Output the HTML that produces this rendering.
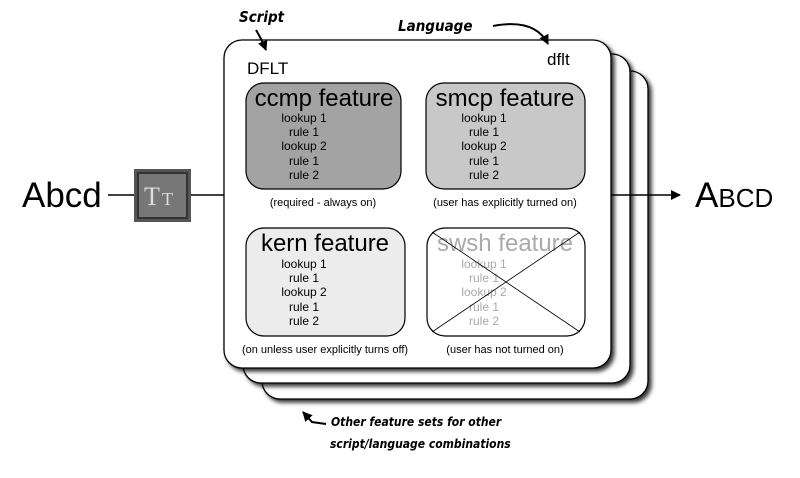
<!DOCTYPE html>
<html><head><meta charset="utf-8"><style>
body{margin:0;background:#fff;}
svg text{font-family:"Liberation Sans",sans-serif;}
.hand{font-family:"DejaVu Sans Condensed","DejaVu Sans",sans-serif;font-weight:bold;font-style:italic;}
</style></head><body>
<svg width="800" height="473" viewBox="0 0 800 473" xmlns="http://www.w3.org/2000/svg">
<defs><filter id="sh" x="-10%" y="-10%" width="130%" height="130%"><feDropShadow dx="3" dy="3" stdDeviation="2" flood-color="#000" flood-opacity="0.8"/></filter>
<marker id="ah" markerWidth="10" markerHeight="10" refX="9" refY="5" orient="auto" markerUnits="userSpaceOnUse"><path d="M0,0 L10,5 L0,10 Z" fill="#000"/></marker></defs>
<rect x="262" y="71" width="386" height="328" rx="18" fill="#fff" stroke="#000" stroke-width="1.3" filter="url(#sh)"/>
<rect x="243" y="54" width="387" height="329" rx="18" fill="#fff" stroke="#000" stroke-width="1.3" filter="url(#sh)"/>
<rect x="224" y="40" width="387" height="328" rx="18" fill="#fff" stroke="#000" stroke-width="1.3" filter="url(#sh)"/>
<line x1="108" y1="195" x2="134" y2="195" stroke="#000" stroke-width="1.5"/>
<line x1="191" y1="195" x2="224" y2="195" stroke="#000" stroke-width="1.5"/>
<line x1="611" y1="195" x2="680" y2="195" stroke="#000" stroke-width="1.5" marker-end="url(#ah)"/>
<text x="22" y="207" font-size="35">Abcd</text>
<text x="695" y="207" font-size="35">A<tspan font-size="26">BCD</tspan></text>
<rect x="134" y="169" width="57" height="53" fill="#555"/>
<rect x="138" y="173" width="49" height="45" fill="#777" stroke="#333" stroke-width="2"/>
<text x="144" y="205" font-size="26" fill="#ddd" style="font-family:'Liberation Serif',serif">T</text>
<text x="162" y="205" font-size="18" fill="#ddd" style="font-family:'Liberation Serif',serif">T</text>
<text x="247" y="74" font-size="17">DFLT</text>
<text x="547" y="65" font-size="17">dflt</text>
<text x="239" y="22" font-size="15" class="hand">Script</text>
<path d="M256,30 Q262,40 266,50" fill="none" stroke="#000" stroke-width="2" marker-end="url(#ah)"/>
<text x="398" y="31" font-size="15" class="hand">Language</text>
<path d="M493,26 Q535,18 548,44" fill="none" stroke="#000" stroke-width="2" marker-end="url(#ah)"/>
<text x="331" y="426" font-size="12" class="hand">Other feature sets for other</text>
<text x="330" y="448" font-size="12" class="hand">script/language combinations</text>
<path d="M326,424 L312,422 L303,412" fill="none" stroke="#000" stroke-width="2" marker-end="url(#ah)"/>
<g font-size="12" text-anchor="middle">
<rect x="246" y="83" width="155" height="106" rx="18" fill="#a3a3a3" stroke="#000" stroke-width="1.2"/>
<text x="324" y="106" font-size="24">ccmp feature</text>
<text x="304" y="122">lookup 1</text><text x="304" y="136">rule 1</text><text x="304" y="150">lookup 2</text><text x="304" y="165">rule 1</text><text x="304" y="179">rule 2</text>
<text x="323" y="206" font-size="11">(required - always on)</text>
<rect x="426" y="83" width="159" height="106" rx="18" fill="#c8c8c8" stroke="#000" stroke-width="1.2"/>
<text x="505" y="106" font-size="24">smcp feature</text>
<text x="484" y="122">lookup 1</text><text x="484" y="136">rule 1</text><text x="484" y="150">lookup 2</text><text x="484" y="165">rule 1</text><text x="484" y="179">rule 2</text>
<text x="505" y="206" font-size="11">(user has explicitly turned on)</text>
<rect x="246" y="228" width="159" height="108" rx="18" fill="#ececec" stroke="#000" stroke-width="1.2"/>
<text x="325" y="251" font-size="24">kern feature</text>
<text x="304" y="268">lookup 1</text><text x="304" y="282">rule 1</text><text x="304" y="296">lookup 2</text><text x="304" y="311">rule 1</text><text x="304" y="325">rule 2</text>
<text x="325" y="353" font-size="11">(on unless user explicitly turns off)</text>
<rect x="427" y="228" width="158" height="108" rx="18" fill="#fff" stroke="#000" stroke-width="1.2"/>
<g fill="#aaa"><text x="505" y="251" font-size="24">swsh feature</text>
<text x="484" y="268">lookup 1</text><text x="484" y="282">rule 1</text><text x="484" y="296">lookup 2</text><text x="484" y="311">rule 1</text><text x="484" y="325">rule 2</text></g>
<line x1="432" y1="232" x2="580" y2="332" stroke="#000" stroke-width="0.8"/>
<line x1="580" y1="232" x2="432" y2="332" stroke="#000" stroke-width="0.8"/>
<text x="505" y="353" font-size="11">(user has not turned on)</text>
</g>
</svg>
</body></html>
